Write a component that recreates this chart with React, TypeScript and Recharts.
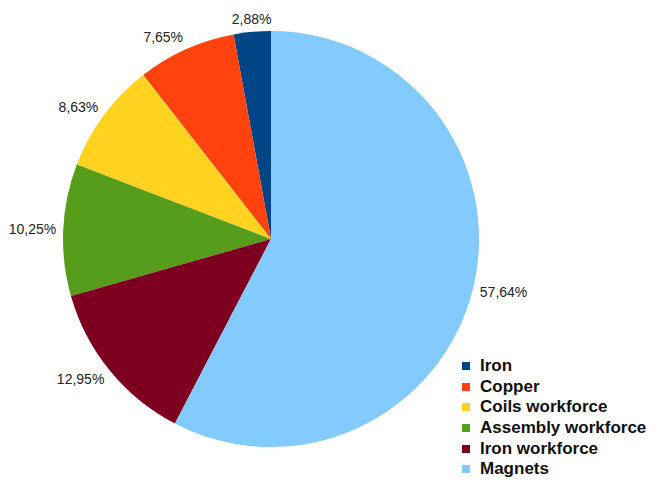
import React from "react";
import { PieChart, Pie, Cell, Legend } from "recharts";

const categories = ["Iron", "Copper", "Coils workforce", "Assembly workforce", "Iron workforce", "Magnets"];
const shares = [2.88, 7.65, 8.63, 10.25, 12.95, 57.64];
const labels = ["2,88%", "7,65%", "8,63%", "10,25%", "12,95%", "57,64%"];
const colors = ["#004586", "#ff420e", "#ffd320", "#579d1c", "#7e0021", "#83caff"];

const data = categories.map((name, i) => ({ name, value: shares[i], label: labels[i] }));

const RAD = Math.PI / 180;
const FONT = "'Liberation Sans', Arial, sans-serif";

const renderLabel = (props: any) => {
  const { cx, cy, midAngle, outerRadius, index } = props;
  const r = outerRadius + 7;
  const c = Math.cos(midAngle * RAD);
  const s = Math.sin(midAngle * RAD);
  const x = cx + r * c;
  const y = cy - r * s;
  let anchor: "start" | "end" | "middle" = "middle";
  if (c > 0.2) anchor = "start";
  else if (c < -0.2) anchor = "end";
  return (
    <text
      x={x}
      y={y - s * 6}
      textAnchor={anchor}
      dominantBaseline="central"
      fontFamily={FONT}
      fontSize={14}
      fill="#222"
    >
      {labels[index]}
    </text>
  );
};

const LegendContent = () => (
  <div style={{ fontFamily: FONT, fontSize: 17, fontWeight: "bold", color: "#111" }}>
    {categories.map((c, i) => (
      <div key={c} style={{ display: "flex", alignItems: "center", height: 20.6 }}>
        <span
          style={{
            display: "inline-block",
            width: 8,
            height: 8,
            background: colors[i],
            marginRight: 10,
          }}
        />
        <span style={{ lineHeight: "20px", whiteSpace: "nowrap" }}>{c}</span>
      </div>
    ))}
  </div>
);

export default function App() {
  return (
    <div style={{ position: "absolute", left: 0, top: 0, background: "#fff" }}>
      <PieChart width={661} height={480} margin={{ top: 0, right: 0, bottom: 0, left: 0 }}>
        <Pie
          data={data}
          dataKey="value"
          nameKey="name"
          cx={271}
          cy={239}
          outerRadius={208}
          startAngle={90}
          endAngle={450}
          stroke="none"
          isAnimationActive={false}
          label={renderLabel}
          labelLine={false}
        >
          {data.map((d, i) => (
            <Cell key={d.name} fill={colors[i]} />
          ))}
        </Pie>
        <Legend
          content={<LegendContent />}
          wrapperStyle={{ position: "absolute", left: 462, top: 356, width: 200 }}
        />
      </PieChart>
    </div>
  );
}
